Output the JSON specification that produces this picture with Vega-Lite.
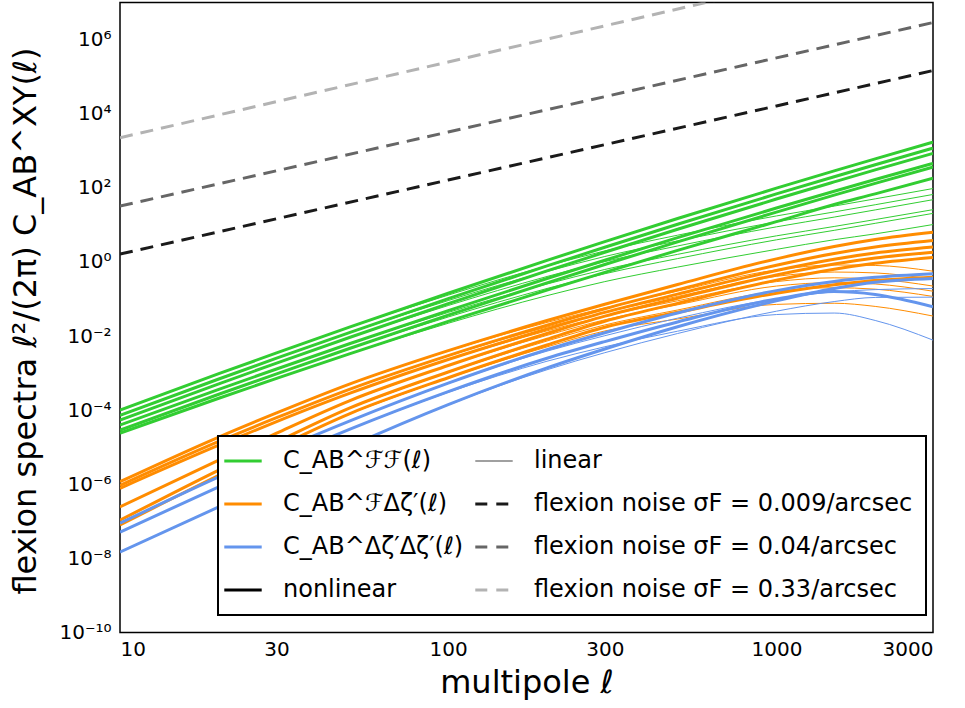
{
  "$schema": "https://vega.github.io/schema/vega-lite/v6.json",
  "width": 813,
  "height": 630,
  "autosize": "none",
  "padding": {"left": 120, "top": 2.5, "right": 32, "bottom": 75.5},
  "background": "white",
  "config": {
    "view": {"stroke": "black", "strokeWidth": 1.5},
    "font": "DejaVu Sans"
  },
  "datasets": {
    "spectra": [
      {"i":"G1","s":"FF","m":"nl","l":10,"v":1.0e-4},{"i":"G1","s":"FF","m":"nl","l":20,"v":9.62e-4},{"i":"G1","s":"FF","m":"nl","l":30,"v":3.51e-3},{"i":"G1","s":"FF","m":"nl","l":50,"v":1.73e-2},{"i":"G1","s":"FF","m":"nl","l":100,"v":0.143},{"i":"G1","s":"FF","m":"nl","l":200,"v":1.10},{"i":"G1","s":"FF","m":"nl","l":300,"v":3.53},{"i":"G1","s":"FF","m":"nl","l":500,"v":14.8},{"i":"G1","s":"FF","m":"nl","l":1000,"v":97.8},{"i":"G1","s":"FF","m":"nl","l":1500,"v":286},{"i":"G1","s":"FF","m":"nl","l":2000,"v":604},{"i":"G1","s":"FF","m":"nl","l":3000,"v":1700},
      {"i":"G2","s":"FF","m":"nl","l":10,"v":7.24e-5},{"i":"G2","s":"FF","m":"nl","l":20,"v":6.93e-4},{"i":"G2","s":"FF","m":"nl","l":30,"v":2.52e-3},{"i":"G2","s":"FF","m":"nl","l":50,"v":1.24e-2},{"i":"G2","s":"FF","m":"nl","l":100,"v":0.102},{"i":"G2","s":"FF","m":"nl","l":200,"v":0.779},{"i":"G2","s":"FF","m":"nl","l":300,"v":2.49},{"i":"G2","s":"FF","m":"nl","l":500,"v":10.4},{"i":"G2","s":"FF","m":"nl","l":1000,"v":68.3},{"i":"G2","s":"FF","m":"nl","l":1500,"v":199},{"i":"G2","s":"FF","m":"nl","l":2000,"v":419},{"i":"G2","s":"FF","m":"nl","l":3000,"v":1175},
      {"i":"G3","s":"FF","m":"nl","l":10,"v":5.37e-5},{"i":"G3","s":"FF","m":"nl","l":20,"v":5.13e-4},{"i":"G3","s":"FF","m":"nl","l":30,"v":1.86e-3},{"i":"G3","s":"FF","m":"nl","l":50,"v":9.13e-3},{"i":"G3","s":"FF","m":"nl","l":100,"v":7.46e-2},{"i":"G3","s":"FF","m":"nl","l":200,"v":0.571},{"i":"G3","s":"FF","m":"nl","l":300,"v":1.82},{"i":"G3","s":"FF","m":"nl","l":500,"v":7.59},{"i":"G3","s":"FF","m":"nl","l":1000,"v":49.7},{"i":"G3","s":"FF","m":"nl","l":1500,"v":144},{"i":"G3","s":"FF","m":"nl","l":2000,"v":304},{"i":"G3","s":"FF","m":"nl","l":3000,"v":851},
      {"i":"G4","s":"FF","m":"nl","l":10,"v":3.98e-5},{"i":"G4","s":"FF","m":"nl","l":20,"v":3.65e-4},{"i":"G4","s":"FF","m":"nl","l":30,"v":1.29e-3},{"i":"G4","s":"FF","m":"nl","l":50,"v":6.18e-3},{"i":"G4","s":"FF","m":"nl","l":100,"v":4.86e-2},{"i":"G4","s":"FF","m":"nl","l":200,"v":0.357},{"i":"G4","s":"FF","m":"nl","l":300,"v":1.11},{"i":"G4","s":"FF","m":"nl","l":500,"v":4.51},{"i":"G4","s":"FF","m":"nl","l":1000,"v":28.4},{"i":"G4","s":"FF","m":"nl","l":1500,"v":80.7},{"i":"G4","s":"FF","m":"nl","l":2000,"v":167},{"i":"G4","s":"FF","m":"nl","l":3000,"v":457},
      {"i":"G5","s":"FF","m":"nl","l":10,"v":2.88e-5},{"i":"G5","s":"FF","m":"nl","l":20,"v":2.68e-4},{"i":"G5","s":"FF","m":"nl","l":30,"v":9.55e-4},{"i":"G5","s":"FF","m":"nl","l":50,"v":4.60e-3},{"i":"G5","s":"FF","m":"nl","l":100,"v":3.65e-2},{"i":"G5","s":"FF","m":"nl","l":200,"v":0.272},{"i":"G5","s":"FF","m":"nl","l":300,"v":0.851},{"i":"G5","s":"FF","m":"nl","l":500,"v":3.48},{"i":"G5","s":"FF","m":"nl","l":1000,"v":22.1},{"i":"G5","s":"FF","m":"nl","l":1500,"v":63.4},{"i":"G5","s":"FF","m":"nl","l":2000,"v":132},{"i":"G5","s":"FF","m":"nl","l":3000,"v":363},
      {"i":"G6","s":"FF","m":"nl","l":10,"v":2.40e-5},{"i":"G6","s":"FF","m":"nl","l":20,"v":2.09e-4},{"i":"G6","s":"FF","m":"nl","l":30,"v":7.20e-4},{"i":"G6","s":"FF","m":"nl","l":50,"v":3.31e-3},{"i":"G6","s":"FF","m":"nl","l":100,"v":2.48e-2},{"i":"G6","s":"FF","m":"nl","l":200,"v":0.173},{"i":"G6","s":"FF","m":"nl","l":300,"v":0.524},{"i":"G6","s":"FF","m":"nl","l":500,"v":2.05},{"i":"G6","s":"FF","m":"nl","l":1000,"v":12.2},{"i":"G6","s":"FF","m":"nl","l":1500,"v":35.4},{"i":"G6","s":"FF","m":"nl","l":2000,"v":68.6},{"i":"G6","s":"FF","m":"nl","l":3000,"v":182},
      {"i":"G1t","s":"FF","m":"lin","l":50,"v":1.73e-2},{"i":"G1t","s":"FF","m":"lin","l":100,"v":0.127},{"i":"G1t","s":"FF","m":"lin","l":200,"v":0.780},{"i":"G1t","s":"FF","m":"lin","l":300,"v":1.98},{"i":"G1t","s":"FF","m":"lin","l":500,"v":5.26},{"i":"G1t","s":"FF","m":"lin","l":1000,"v":17.4},{"i":"G1t","s":"FF","m":"lin","l":1500,"v":32.1},{"i":"G1t","s":"FF","m":"lin","l":2000,"v":50.3},{"i":"G1t","s":"FF","m":"lin","l":3000,"v":95.5},
      {"i":"G2t","s":"FF","m":"lin","l":50,"v":1.24e-2},{"i":"G2t","s":"FF","m":"lin","l":100,"v":9.06e-2},{"i":"G2t","s":"FF","m":"lin","l":200,"v":0.552},{"i":"G2t","s":"FF","m":"lin","l":300,"v":1.40},{"i":"G2t","s":"FF","m":"lin","l":500,"v":3.69},{"i":"G2t","s":"FF","m":"lin","l":1000,"v":12.1},{"i":"G2t","s":"FF","m":"lin","l":1500,"v":22.3},{"i":"G2t","s":"FF","m":"lin","l":2000,"v":34.9},{"i":"G2t","s":"FF","m":"lin","l":3000,"v":66.1},
      {"i":"G3t","s":"FF","m":"lin","l":50,"v":9.13e-3},{"i":"G3t","s":"FF","m":"lin","l":100,"v":6.65e-2},{"i":"G3t","s":"FF","m":"lin","l":200,"v":0.404},{"i":"G3t","s":"FF","m":"lin","l":300,"v":1.02},{"i":"G3t","s":"FF","m":"lin","l":500,"v":2.69},{"i":"G3t","s":"FF","m":"lin","l":1000,"v":8.83},{"i":"G3t","s":"FF","m":"lin","l":1500,"v":16.2},{"i":"G3t","s":"FF","m":"lin","l":2000,"v":25.3},{"i":"G3t","s":"FF","m":"lin","l":3000,"v":47.8},
      {"i":"G4t","s":"FF","m":"lin","l":50,"v":6.18e-3},{"i":"G4t","s":"FF","m":"lin","l":100,"v":4.33e-2},{"i":"G4t","s":"FF","m":"lin","l":200,"v":0.253},{"i":"G4t","s":"FF","m":"lin","l":300,"v":0.625},{"i":"G4t","s":"FF","m":"lin","l":500,"v":1.60},{"i":"G4t","s":"FF","m":"lin","l":1000,"v":5.05},{"i":"G4t","s":"FF","m":"lin","l":1500,"v":9.05},{"i":"G4t","s":"FF","m":"lin","l":2000,"v":13.9},{"i":"G4t","s":"FF","m":"lin","l":3000,"v":25.7},
      {"i":"G5t","s":"FF","m":"lin","l":50,"v":4.60e-3},{"i":"G5t","s":"FF","m":"lin","l":100,"v":3.26e-2},{"i":"G5t","s":"FF","m":"lin","l":200,"v":0.192},{"i":"G5t","s":"FF","m":"lin","l":300,"v":0.479},{"i":"G5t","s":"FF","m":"lin","l":500,"v":1.23},{"i":"G5t","s":"FF","m":"lin","l":1000,"v":3.94},{"i":"G5t","s":"FF","m":"lin","l":1500,"v":7.11},{"i":"G5t","s":"FF","m":"lin","l":2000,"v":11.0},{"i":"G5t","s":"FF","m":"lin","l":3000,"v":20.4},
      {"i":"G6t","s":"FF","m":"lin","l":50,"v":3.31e-3},{"i":"G6t","s":"FF","m":"lin","l":100,"v":2.21e-2},{"i":"G6t","s":"FF","m":"lin","l":200,"v":0.123},{"i":"G6t","s":"FF","m":"lin","l":300,"v":0.294},{"i":"G6t","s":"FF","m":"lin","l":500,"v":0.725},{"i":"G6t","s":"FF","m":"lin","l":1000,"v":2.18},{"i":"G6t","s":"FF","m":"lin","l":1500,"v":3.97},{"i":"G6t","s":"FF","m":"lin","l":2000,"v":5.71},{"i":"G6t","s":"FF","m":"lin","l":3000,"v":10.2},
      {"i":"O1","s":"FZ","m":"nl","l":10,"v":1.17e-6},{"i":"O1","s":"FZ","m":"nl","l":20,"v":1.88e-5},{"i":"O1","s":"FZ","m":"nl","l":30,"v":8.41e-5},{"i":"O1","s":"FZ","m":"nl","l":50,"v":5.04e-4},{"i":"O1","s":"FZ","m":"nl","l":100,"v":4.03e-3},{"i":"O1","s":"FZ","m":"nl","l":200,"v":2.62e-2},{"i":"O1","s":"FZ","m":"nl","l":300,"v":7.21e-2},{"i":"O1","s":"FZ","m":"nl","l":500,"v":0.246},{"i":"O1","s":"FZ","m":"nl","l":1000,"v":1.21},{"i":"O1","s":"FZ","m":"nl","l":1500,"v":2.61},{"i":"O1","s":"FZ","m":"nl","l":2000,"v":4.03},{"i":"O1","s":"FZ","m":"nl","l":3000,"v":6.30},
      {"i":"O2","s":"FZ","m":"nl","l":10,"v":9.33e-7},{"i":"O2","s":"FZ","m":"nl","l":20,"v":1.43e-5},{"i":"O2","s":"FZ","m":"nl","l":30,"v":6.25e-5},{"i":"O2","s":"FZ","m":"nl","l":50,"v":3.65e-4},{"i":"O2","s":"FZ","m":"nl","l":100,"v":2.97e-3},{"i":"O2","s":"FZ","m":"nl","l":200,"v":1.96e-2},{"i":"O2","s":"FZ","m":"nl","l":300,"v":5.47e-2},{"i":"O2","s":"FZ","m":"nl","l":500,"v":0.177},{"i":"O2","s":"FZ","m":"nl","l":1000,"v":0.815},{"i":"O2","s":"FZ","m":"nl","l":1500,"v":1.69},{"i":"O2","s":"FZ","m":"nl","l":2000,"v":2.53},{"i":"O2","s":"FZ","m":"nl","l":3000,"v":3.79},
      {"i":"O3","s":"FZ","m":"nl","l":10,"v":7.76e-7},{"i":"O3","s":"FZ","m":"nl","l":20,"v":1.13e-5},{"i":"O3","s":"FZ","m":"nl","l":30,"v":4.92e-5},{"i":"O3","s":"FZ","m":"nl","l":50,"v":2.83e-4},{"i":"O3","s":"FZ","m":"nl","l":100,"v":2.33e-3},{"i":"O3","s":"FZ","m":"nl","l":200,"v":1.55e-2},{"i":"O3","s":"FZ","m":"nl","l":300,"v":4.35e-2},{"i":"O3","s":"FZ","m":"nl","l":500,"v":0.135},{"i":"O3","s":"FZ","m":"nl","l":1000,"v":0.587},{"i":"O3","s":"FZ","m":"nl","l":1500,"v":1.18},{"i":"O3","s":"FZ","m":"nl","l":2000,"v":1.73},{"i":"O3","s":"FZ","m":"nl","l":3000,"v":2.51},
      {"i":"O4","s":"FZ","m":"nl","l":10,"v":2.45e-7},{"i":"O4","s":"FZ","m":"nl","l":20,"v":4.51e-6},{"i":"O4","s":"FZ","m":"nl","l":30,"v":2.40e-5},{"i":"O4","s":"FZ","m":"nl","l":50,"v":1.79e-4},{"i":"O4","s":"FZ","m":"nl","l":100,"v":1.60e-3},{"i":"O4","s":"FZ","m":"nl","l":200,"v":1.17e-2},{"i":"O4","s":"FZ","m":"nl","l":300,"v":3.45e-2},{"i":"O4","s":"FZ","m":"nl","l":500,"v":0.105},{"i":"O4","s":"FZ","m":"nl","l":1000,"v":0.445},{"i":"O4","s":"FZ","m":"nl","l":1500,"v":0.877},{"i":"O4","s":"FZ","m":"nl","l":2000,"v":1.27},{"i":"O4","s":"FZ","m":"nl","l":3000,"v":1.82},
      {"i":"O5","s":"FZ","m":"nl","l":10,"v":1.07e-7},{"i":"O5","s":"FZ","m":"nl","l":20,"v":2.42e-6},{"i":"O5","s":"FZ","m":"nl","l":30,"v":1.38e-5},{"i":"O5","s":"FZ","m":"nl","l":50,"v":1.13e-4},{"i":"O5","s":"FZ","m":"nl","l":100,"v":1.07e-3},{"i":"O5","s":"FZ","m":"nl","l":200,"v":8.22e-3},{"i":"O5","s":"FZ","m":"nl","l":300,"v":2.50e-2},{"i":"O5","s":"FZ","m":"nl","l":500,"v":7.62e-2},{"i":"O5","s":"FZ","m":"nl","l":1000,"v":0.322},{"i":"O5","s":"FZ","m":"nl","l":1500,"v":0.635},{"i":"O5","s":"FZ","m":"nl","l":2000,"v":0.920},{"i":"O5","s":"FZ","m":"nl","l":3000,"v":1.32},
      {"i":"O6","s":"FZ","m":"nl","l":10,"v":7.94e-8},{"i":"O6","s":"FZ","m":"nl","l":20,"v":1.75e-6},{"i":"O6","s":"FZ","m":"nl","l":30,"v":9.93e-6},{"i":"O6","s":"FZ","m":"nl","l":50,"v":7.98e-5},{"i":"O6","s":"FZ","m":"nl","l":100,"v":7.50e-4},{"i":"O6","s":"FZ","m":"nl","l":200,"v":5.71e-3},{"i":"O6","s":"FZ","m":"nl","l":300,"v":1.73e-2},{"i":"O6","s":"FZ","m":"nl","l":500,"v":4.37e-2},{"i":"O6","s":"FZ","m":"nl","l":1000,"v":0.143},{"i":"O6","s":"FZ","m":"nl","l":1500,"v":0.243},{"i":"O6","s":"FZ","m":"nl","l":2000,"v":0.315},{"i":"O6","s":"FZ","m":"nl","l":3000,"v":0.388},
      {"i":"O1t","s":"FZ","m":"lin","l":50,"v":5.04e-4},{"i":"O1t","s":"FZ","m":"lin","l":100,"v":3.94e-3},{"i":"O1t","s":"FZ","m":"lin","l":200,"v":2.33e-2},{"i":"O1t","s":"FZ","m":"lin","l":300,"v":5.73e-2},{"i":"O1t","s":"FZ","m":"lin","l":500,"v":0.163},{"i":"O1t","s":"FZ","m":"lin","l":1000,"v":0.607},{"i":"O1t","s":"FZ","m":"lin","l":1500,"v":0.826},{"i":"O1t","s":"FZ","m":"lin","l":2000,"v":0.804},{"i":"O1t","s":"FZ","m":"lin","l":3000,"v":0.561},
      {"i":"O2t","s":"FZ","m":"lin","l":50,"v":3.65e-4},{"i":"O2t","s":"FZ","m":"lin","l":100,"v":2.90e-3},{"i":"O2t","s":"FZ","m":"lin","l":200,"v":1.75e-2},{"i":"O2t","s":"FZ","m":"lin","l":300,"v":4.35e-2},{"i":"O2t","s":"FZ","m":"lin","l":500,"v":0.117},{"i":"O2t","s":"FZ","m":"lin","l":1000,"v":0.408},{"i":"O2t","s":"FZ","m":"lin","l":1500,"v":0.533},{"i":"O2t","s":"FZ","m":"lin","l":2000,"v":0.505},{"i":"O2t","s":"FZ","m":"lin","l":3000,"v":0.338},
      {"i":"O3t","s":"FZ","m":"lin","l":50,"v":2.83e-4},{"i":"O3t","s":"FZ","m":"lin","l":100,"v":2.28e-3},{"i":"O3t","s":"FZ","m":"lin","l":200,"v":1.38e-2},{"i":"O3t","s":"FZ","m":"lin","l":300,"v":3.45e-2},{"i":"O3t","s":"FZ","m":"lin","l":500,"v":8.93e-2},{"i":"O3t","s":"FZ","m":"lin","l":1000,"v":0.294},{"i":"O3t","s":"FZ","m":"lin","l":1500,"v":0.372},{"i":"O3t","s":"FZ","m":"lin","l":2000,"v":0.344},{"i":"O3t","s":"FZ","m":"lin","l":3000,"v":0.223},
      {"i":"O4t","s":"FZ","m":"lin","l":50,"v":1.79e-4},{"i":"O4t","s":"FZ","m":"lin","l":100,"v":1.57e-3},{"i":"O4t","s":"FZ","m":"lin","l":200,"v":1.04e-2},{"i":"O4t","s":"FZ","m":"lin","l":300,"v":2.74e-2},{"i":"O4t","s":"FZ","m":"lin","l":500,"v":6.95e-2},{"i":"O4t","s":"FZ","m":"lin","l":1000,"v":0.223},{"i":"O4t","s":"FZ","m":"lin","l":1500,"v":0.277},{"i":"O4t","s":"FZ","m":"lin","l":2000,"v":0.254},{"i":"O4t","s":"FZ","m":"lin","l":3000,"v":0.162},
      {"i":"O5t","s":"FZ","m":"lin","l":50,"v":1.13e-4},{"i":"O5t","s":"FZ","m":"lin","l":100,"v":1.04e-3},{"i":"O5t","s":"FZ","m":"lin","l":200,"v":7.33e-3},{"i":"O5t","s":"FZ","m":"lin","l":300,"v":1.99e-2},{"i":"O5t","s":"FZ","m":"lin","l":500,"v":5.04e-2},{"i":"O5t","s":"FZ","m":"lin","l":1000,"v":0.161},{"i":"O5t","s":"FZ","m":"lin","l":1500,"v":0.201},{"i":"O5t","s":"FZ","m":"lin","l":2000,"v":0.184},{"i":"O5t","s":"FZ","m":"lin","l":3000,"v":0.117},
      {"i":"O6t","s":"FZ","m":"lin","l":50,"v":7.98e-5},{"i":"O6t","s":"FZ","m":"lin","l":100,"v":7.33e-4},{"i":"O6t","s":"FZ","m":"lin","l":200,"v":5.09e-3},{"i":"O6t","s":"FZ","m":"lin","l":300,"v":1.37e-2},{"i":"O6t","s":"FZ","m":"lin","l":500,"v":2.88e-2},{"i":"O6t","s":"FZ","m":"lin","l":1000,"v":7.14e-2},{"i":"O6t","s":"FZ","m":"lin","l":1500,"v":7.67e-2},{"i":"O6t","s":"FZ","m":"lin","l":2000,"v":6.30e-2},{"i":"O6t","s":"FZ","m":"lin","l":3000,"v":3.46e-2},
      {"i":"B1","s":"ZZ","m":"nl","l":10,"v":8.91e-8},{"i":"B1","s":"ZZ","m":"nl","l":20,"v":1.58e-6},{"i":"B1","s":"ZZ","m":"nl","l":30,"v":7.67e-6},{"i":"B1","s":"ZZ","m":"nl","l":50,"v":5.08e-5},{"i":"B1","s":"ZZ","m":"nl","l":100,"v":5.36e-4},{"i":"B1","s":"ZZ","m":"nl","l":200,"v":4.29e-3},{"i":"B1","s":"ZZ","m":"nl","l":300,"v":1.23e-2},{"i":"B1","s":"ZZ","m":"nl","l":500,"v":4.20e-2},{"i":"B1","s":"ZZ","m":"nl","l":1000,"v":0.168},{"i":"B1","s":"ZZ","m":"nl","l":1500,"v":0.296},{"i":"B1","s":"ZZ","m":"nl","l":2000,"v":0.384},{"i":"B1","s":"ZZ","m":"nl","l":3000,"v":0.480},
      {"i":"B2","s":"ZZ","m":"nl","l":10,"v":5.13e-8},{"i":"B2","s":"ZZ","m":"nl","l":20,"v":8.51e-7},{"i":"B2","s":"ZZ","m":"nl","l":30,"v":4.37e-6},{"i":"B2","s":"ZZ","m":"nl","l":50,"v":3.02e-5},{"i":"B2","s":"ZZ","m":"nl","l":100,"v":3.16e-4},{"i":"B2","s":"ZZ","m":"nl","l":200,"v":2.51e-3},{"i":"B2","s":"ZZ","m":"nl","l":300,"v":7.08e-3},{"i":"B2","s":"ZZ","m":"nl","l":500,"v":2.40e-2},{"i":"B2","s":"ZZ","m":"nl","l":1000,"v":0.100},{"i":"B2","s":"ZZ","m":"nl","l":1500,"v":0.158},{"i":"B2","s":"ZZ","m":"nl","l":2000,"v":0.132},{"i":"B2","s":"ZZ","m":"nl","l":3000,"v":6.17e-2},
      {"i":"B3","s":"ZZ","m":"nl","l":10,"v":1.48e-8},{"i":"B3","s":"ZZ","m":"nl","l":20,"v":2.45e-7},{"i":"B3","s":"ZZ","m":"nl","l":30,"v":1.32e-6},{"i":"B3","s":"ZZ","m":"nl","l":50,"v":1.05e-5},{"i":"B3","s":"ZZ","m":"nl","l":100,"v":1.41e-4},{"i":"B3","s":"ZZ","m":"nl","l":200,"v":1.38e-3},{"i":"B3","s":"ZZ","m":"nl","l":300,"v":4.47e-3},{"i":"B3","s":"ZZ","m":"nl","l":500,"v":1.78e-2},{"i":"B3","s":"ZZ","m":"nl","l":1000,"v":8.91e-2},{"i":"B3","s":"ZZ","m":"nl","l":1500,"v":0.191},{"i":"B3","s":"ZZ","m":"nl","l":2000,"v":0.282},{"i":"B3","s":"ZZ","m":"nl","l":3000,"v":0.355},
      {"i":"B1t","s":"ZZ","m":"lin","l":50,"v":5.08e-5},{"i":"B1t","s":"ZZ","m":"lin","l":100,"v":5.24e-4},{"i":"B1t","s":"ZZ","m":"lin","l":200,"v":3.91e-3},{"i":"B1t","s":"ZZ","m":"lin","l":300,"v":1.02e-2},{"i":"B1t","s":"ZZ","m":"lin","l":500,"v":3.04e-2},{"i":"B1t","s":"ZZ","m":"lin","l":1000,"v":0.101},{"i":"B1t","s":"ZZ","m":"lin","l":1500,"v":0.155},{"i":"B1t","s":"ZZ","m":"lin","l":2000,"v":0.179},{"i":"B1t","s":"ZZ","m":"lin","l":3000,"v":0.191},
      {"i":"B2t","s":"ZZ","m":"lin","l":50,"v":3.02e-5},{"i":"B2t","s":"ZZ","m":"lin","l":100,"v":3.02e-4},{"i":"B2t","s":"ZZ","m":"lin","l":200,"v":2.09e-3},{"i":"B2t","s":"ZZ","m":"lin","l":300,"v":5.13e-3},{"i":"B2t","s":"ZZ","m":"lin","l":500,"v":1.35e-2},{"i":"B2t","s":"ZZ","m":"lin","l":1000,"v":3.80e-2},{"i":"B2t","s":"ZZ","m":"lin","l":1500,"v":4.17e-2},{"i":"B2t","s":"ZZ","m":"lin","l":2000,"v":2.63e-2},{"i":"B2t","s":"ZZ","m":"lin","l":3000,"v":7.76e-3},
      {"i":"B3t","s":"ZZ","m":"lin","l":50,"v":1.05e-5},{"i":"B3t","s":"ZZ","m":"lin","l":100,"v":1.38e-4},{"i":"B3t","s":"ZZ","m":"lin","l":200,"v":1.23e-3},{"i":"B3t","s":"ZZ","m":"lin","l":300,"v":3.55e-3},{"i":"B3t","s":"ZZ","m":"lin","l":500,"v":1.17e-2},{"i":"B3t","s":"ZZ","m":"lin","l":1000,"v":4.68e-2},{"i":"B3t","s":"ZZ","m":"lin","l":1500,"v":8.51e-2},{"i":"B3t","s":"ZZ","m":"lin","l":2000,"v":0.110},{"i":"B3t","s":"ZZ","m":"lin","l":3000,"v":0.112}
    ],
    "noise": [
      {"i":"N1","s":"n1","l":10,"v":1.62},{"i":"N1","s":"n1","l":100,"v":162},{"i":"N1","s":"n1","l":1000,"v":16200},{"i":"N1","s":"n1","l":3000,"v":145800},
      {"i":"N2","s":"n2","l":10,"v":32},{"i":"N2","s":"n2","l":100,"v":3200},{"i":"N2","s":"n2","l":1000,"v":320000},{"i":"N2","s":"n2","l":3000,"v":2880000},
      {"i":"N3","s":"n3","l":10,"v":2240},{"i":"N3","s":"n3","l":100,"v":248000},{"i":"N3","s":"n3","l":1000,"v":27500000},{"i":"N3","s":"n3","l":3000,"v":260000000}
    ]
  },
  "layer": [
    {
      "data": {"name": "spectra"},
      "mark": {"type": "line", "clip": true, "interpolate": "monotone"},
      "encoding": {
        "x": {
          "field": "l", "type": "quantitative",
          "scale": {"type": "log", "domain": [10, 3000], "nice": false},
          "axis": {
            "orient": "bottom",
            "values": [10,20,30,40,50,60,70,80,90,100,200,300,400,500,600,700,800,900,1000,2000,3000],
            "labelExpr": "indexof([10,30,100,300,1000,3000], datum.value) >= 0 ? '' + datum.value : ''",
            "labelOverlap": false,
            "labelFont": "DejaVu Sans", "labelFontSize": 20, "labelColor": "black",
            "labelPadding": 7,
            "tickSize": 0, "tickColor": "black", "tickWidth": 1,
            "domain": false, "grid": false,
            "zindex": 1,
            "title": "multipole ℓ",
            "titleFont": "DejaVu Sans", "titleFontSize": 32, "titleFontWeight": "normal", "titleColor": "black",
            "titleY": 60, "titleBaseline": "alphabetic",
            "encode": {"ticks": {"update": {"y2": {"signal": "indexof([10,30,100,300,1000,3000], datum.value) >= 0 ? -7 : -3.5"}}}}
          }
        },
        "y": {
          "field": "v", "type": "quantitative",
          "scale": {"type": "log", "domain": [1e-10, 1e7], "nice": false},
          "axis": {
            "orient": "left",
            "values": [1e-10,1e-8,1e-6,1e-4,1e-2,1,1e2,1e4,1e6],
            "labelExpr": "'10' + replace(replace(replace(replace(replace(replace(replace('' + round(log(datum.value)/LN10), '-', '⁻'), '0', '⁰'), '1', '¹'), '2', '²'), '4', '⁴'), '6', '⁶'), '8', '⁸')",
            "labelOverlap": false,
            "labelFont": "DejaVu Sans", "labelFontSize": 20, "labelColor": "black",
            "labelPadding": 9,
            "tickSize": 0, "tickColor": "black", "tickWidth": 1,
            "domain": false, "grid": false,
            "zindex": 1,
            "title": "flexion spectra ℓ²/(2π) C_AB^XY(ℓ)",
            "titleFont": "DejaVu Sans", "titleFontSize": 32, "titleFontWeight": "normal", "titleColor": "black",
            "titleX": -85, "titleY": 318, "titleAngle": -90, "titleAlign": "center", "titleBaseline": "alphabetic",
            "encode": {"ticks": {"update": {"x2": {"value": 7}}}}
          }
        },
        "color": {
          "field": "s", "type": "nominal",
          "scale": {
            "domain": ["FF","FZ","ZZ","nl","lin","n1","n2","n3"],
            "range": ["#32cd32","#ff8c00","#6495ed","#000000","#808080","#1a1a1a","#666666","#b3b3b3"]
          },
          "legend": {
            "orient": "none", "legendX": 98, "legendY": 433.5,
            "title": null, "columns": 2, "columnPadding": 5, "rowPadding": 19,
            "padding": 13, "symbolType": "stroke", "symbolSize": 1400, "symbolStrokeWidth": 3,
            "labelOffset": 28,
            "labelFont": "DejaVu Sans", "labelFontSize": 24, "labelColor": "black", "labelLimit": 600,
            "fillColor": "white", "strokeColor": "black", "zindex": 2,
            "labelExpr": "datum.value == 'FF' ? 'C_AB^ℱℱ(ℓ)' : datum.value == 'FZ' ? 'C_AB^ℱΔζ′(ℓ)' : datum.value == 'ZZ' ? 'C_AB^Δζ′Δζ′(ℓ)' : datum.value == 'nl' ? 'nonlinear' : datum.value == 'lin' ? 'linear' : datum.value == 'n1' ? 'flexion noise σF = 0.009/arcsec' : datum.value == 'n2' ? 'flexion noise σF = 0.04/arcsec' : 'flexion noise σF = 0.33/arcsec'",
            "encode": {
              "legend": {"update": {"strokeWidth": {"value": 2}}},
              "symbols": {"update": {
                "strokeWidth": {"signal": "datum.value == 'lin' ? 1.5 : 3"},
                "strokeDash": {"signal": "indexof(['n1','n2','n3'], datum.value) >= 0 ? [12, 9] : [1, 0]"}
              }}
            }
          }
        },
        "strokeWidth": {
          "field": "m", "type": "nominal",
          "scale": {"domain": ["nl","lin"], "range": [3, 1]},
          "legend": null
        },
        "detail": {"field": "i", "type": "nominal"}
      }
    },
    {
      "data": {"name": "noise"},
      "mark": {"type": "line", "clip": true, "strokeWidth": 3, "strokeDash": [13, 8]},
      "encoding": {
        "x": {
          "field": "l", "type": "quantitative",
          "scale": {"type": "log", "domain": [10, 3000], "nice": false},
          "axis": {
            "orient": "top",
            "values": [10,20,30,40,50,60,70,80,90,100,200,300,400,500,600,700,800,900,1000,2000,3000],
            "labels": false, "tickSize": 0, "tickColor": "black", "tickWidth": 1,
            "domain": false, "grid": false, "title": null, "zindex": 1,
            "encode": {"ticks": {"update": {"y2": {"signal": "indexof([10,30,100,300,1000,3000], datum.value) >= 0 ? 7 : 3.5"}}}}
          }
        },
        "y": {
          "field": "v", "type": "quantitative",
          "scale": {"type": "log", "domain": [1e-10, 1e7], "nice": false},
          "axis": {
            "orient": "right",
            "values": [1e-10,1e-8,1e-6,1e-4,1e-2,1,1e2,1e4,1e6],
            "labels": false, "tickSize": 0, "tickColor": "black", "tickWidth": 1,
            "domain": false, "grid": false, "title": null, "zindex": 1,
            "encode": {"ticks": {"update": {"x2": {"value": -7}}}}
          }
        },
        "color": {
          "field": "s", "type": "nominal",
          "scale": {
            "domain": ["FF","FZ","ZZ","nl","lin","n1","n2","n3"],
            "range": ["#32cd32","#ff8c00","#6495ed","#000000","#808080","#1a1a1a","#666666","#b3b3b3"]
          }
        },
        "detail": {"field": "i", "type": "nominal"}
      }
    }
  ],
  "resolve": {"axis": {"x": "independent", "y": "independent"}}
}
